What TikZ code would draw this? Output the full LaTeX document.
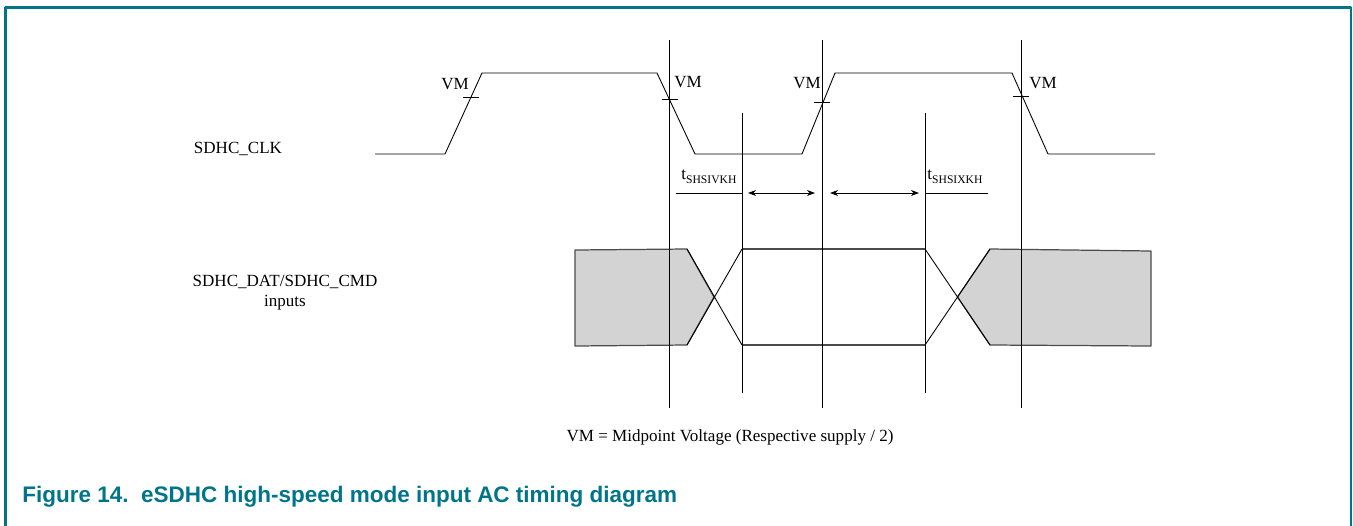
\documentclass[tikz,border=0pt]{standalone}
\usepackage{fontspec}
\usetikzlibrary{arrows.meta}
\setmainfont{Liberation Serif}
\newfontfamily\capfont{Liberation Sans}
\definecolor{nxpteal}{RGB}{0,117,138}
\definecolor{datagray}{RGB}{211,211,211}
\newcommand{\tsub}[1]{t\raisebox{-0.55ex}{\fontsize{6.6}{7}\selectfont #1}}

\begin{document}
\begin{tikzpicture}[x=0.02cm,y=-0.02cm,>={Stealth[length=4.6pt,width=3.4pt]},line join=round,line width=0.5pt,font=\fontsize{9.7}{11.5}\selectfont]
	\useasboundingbox (0,0) rectangle (1353,525);
	% frame
	\draw[nxpteal,line width=1.6pt] (5.5,540)--(5.5,7.5)--(1351,7.5)--(1351,540);
	% data bus
	\filldraw[fill=datagray,draw=black!70,line width=0.7pt] (575,250)--(687,249)--(714,297)--(687,345)--(575,346)--cycle;
	\filldraw[fill=datagray,draw=black!70,line width=0.7pt] (990,249)--(1151,251)--(1151,346)--(990,345)--(957.5,297)--cycle;
	\draw (687,249)--(742,345) (687,345)--(742,249) (925,249)--(990,345) (925,345)--(990,249);
	\draw[black!70,line width=0.7pt] (742,249)--(925,249) (742,345)--(925,345);
	% clock
	\draw (375,154)--(445,154)--(482,73)--(657,73)--(695,154)--(802,154)--(835,73)--(1012,73)--(1048,154)--(1155,154);
	\draw (463,97)--(479,97) (662,99)--(678,99) (814,102)--(830,102) (1013,96)--(1029,96);
	\node (vma) at (455,84) {VM};
	\node (vmb) at (688,82) {VM};
	\node (vmc) at (807,83) {VM};
	\node (vmd) at (1043,83) {VM};
	% edges
	\draw (669,40)--(669,408) (822,40)--(822,408) (1021,40)--(1021,408)
	(742,113)--(742,393) (925,113)--(925,393);
	% timing
	\draw (676,193)--(742,193) (925,193)--(988,193);
	\draw[<->] (748,193)--(815,193);
	\draw[<->] (830,193)--(919,193);
	\node[anchor=base west,inner sep=0] (tsu) at (681,179) {\tsub{SHSIVKH}};
	\node[anchor=base west,inner sep=0] (tho) at (927,179) {\tsub{SHSIXKH}};
	% labels
	\node (clk) at (238,149) {SDHC\_CLK};
	\node[align=center] (dat) at (285,293) {SDHC\_DAT/SDHC\_CMD\\inputs};
	\node (vm) at (730,437) {VM = Midpoint Voltage (Respective supply / 2)};
	\node[anchor=base west,inner sep=0,text=nxpteal,font=\capfont\bfseries\fontsize{12.8}{14}\selectfont] (cap) at (22,502) {Figure 14.\ \ eSDHC high-speed mode input AC timing diagram};
\end{tikzpicture}
\end{document}
